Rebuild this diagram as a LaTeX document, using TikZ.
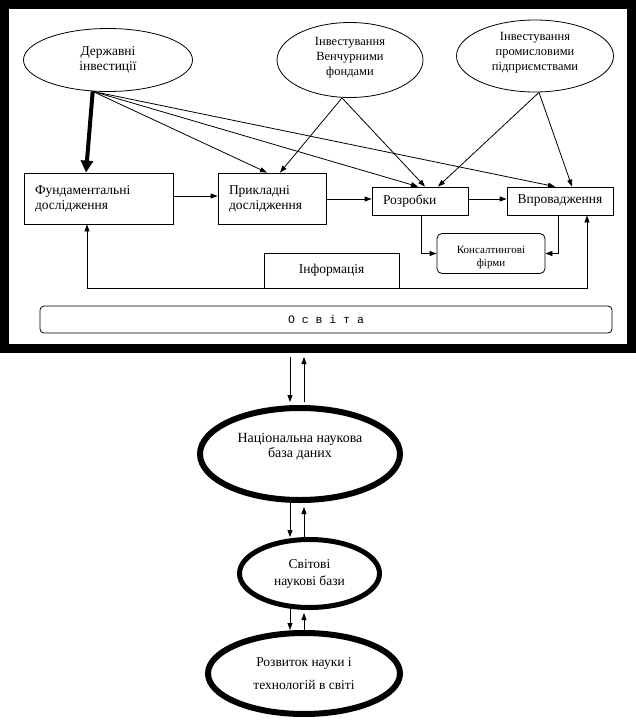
\documentclass[tikz,border=0pt]{standalone}
\usepackage{fontspec}
\setmainfont{Liberation Serif}
\setmonofont{Liberation Mono}
\usetikzlibrary{shapes.geometric,arrows.meta,calc}
\newcommand{\liftlines}[2]{\raisebox{#1}[\height][\depth]{\begin{tabular}{@{}c@{}}#2\end{tabular}}}
\begin{document}
\begin{tikzpicture}[x=1pt,y=-1pt,
  thin/.style={line width=0.8pt},
  arr/.style={thin,-{Triangle[length=7pt,width=5pt]}},
  thickarr/.style={line width=4pt,-{Triangle[length=12pt,width=12pt]}},
  box/.style={draw,thin,rectangle,inner sep=0pt},
  oval/.style={draw,thin,ellipse,inner sep=0pt,align=center},
  bigoval/.style={draw,ellipse,inner sep=0pt,align=center},
  txt/.style={font=\fontsize{13.5}{15}\selectfont},
  smalltxt/.style={font=\fontsize{12.5}{15}\selectfont},
]
\useasboundingbox (0,0) rectangle (636,720);

% outer frame
\node[draw,line width=9pt,minimum width=627pt,minimum height=344pt] (frame) at (318,176.5) {};

% investment ellipses
\node[oval,txt,minimum width=169pt,minimum height=63pt] (gov) at (108,60) {Державні\\інвестиції};
\node[oval,smalltxt,minimum width=146pt,minimum height=75pt] (ven) at (350,60) {\liftlines{3pt}{Інвестування\\Венчурними\\фондами}};
\node[oval,smalltxt,minimum width=157pt,minimum height=72pt] (ind) at (535,56) {\liftlines{4pt}{Інвестування\\промисловими\\підприємствами}};

% boxes
\node[box,txt,minimum width=149pt,minimum height=51pt,text width=127pt,align=left,inner xsep=11pt] (fund) at (98.5,198.5) {Фундаментальні\\дослідження};
\node[box,txt,minimum width=108pt,minimum height=51pt,text width=86pt,align=left,inner xsep=11pt] (apl) at (272,198.5) {Прикладні\\дослідження};
\node[box,txt,minimum width=96pt,minimum height=28pt,text width=74pt,align=left,inner xsep=11pt] (roz) at (420,201) {Розробки};
\node[box,txt,minimum width=106pt,minimum height=28pt,align=center] (vpr) at (560,201) {Впровадження};
\node[box,rounded corners=5pt,minimum width=108pt,minimum height=40pt,align=center,font=\fontsize{11}{13}\selectfont] (kons) at (491,253.5) {\liftlines{-4pt}{Консалтингові\\фірми}};
\node[box,txt,minimum width=135pt,minimum height=35pt] (info) at (331.5,270.5) {Інформація};
\node[box,rounded corners=4pt,minimum width=572pt,minimum height=27pt,font=\ttfamily\fontsize{11.5}{14}\selectfont] (osv) at (326,319.5) {О с в і т а};

% lower ellipses
\node[bigoval,line width=6pt,minimum width=200pt,minimum height=92pt,font=\fontsize{14}{15}\selectfont] (nat) at (300,454)
  {\liftlines{7pt}{Національна наукова\\база даних}};
\node[bigoval,line width=5pt,minimum width=140pt,minimum height=68pt,font=\fontsize{13.5}{17}\selectfont] (svit) at (309.5,573.5) {Світові\\наукові бази};
\node[bigoval,line width=6pt,minimum width=192pt,minimum height=81pt,font=\fontsize{13.5}{23}\selectfont] (rozv) at (304,673.5) {Розвиток науки і\\технологій в світі};

% arrows from investments
\draw[thickarr] (gov.244) -- ($(fund.north)+(-12.5,0)$);
\draw[arr] (gov.244) -- ($(apl.north)+(-5,0)$);
\draw[arr] (gov.244) -- ($(roz.north)+(-2,0)$);
\draw[arr] (gov.244) -- ($(vpr.north)+(-5,0)$);
\draw[arr] ($(ven.south)+(-8,0)$) -- ($(apl.north)+(8,0)$);
\draw[arr] ($(ven.south)+(-8,0)$) -- ($(roz.north)+(5,0)$);
\draw[arr] ($(ind.south)+(4,0)$) -- ($(roz.north)+(18,0)$);
\draw[arr] ($(ind.south)+(4,0)$) -- ($(vpr.north)+(12,0)$);

% chain
\draw[arr] ($(fund.east)+(0,-2.5)$) -- ($(apl.west)+(0,-2.5)$);
\draw[arr] ($(apl.east |- roz.west)+(0,-2)$) -- ($(roz.west)+(0,-2)$);
\draw[arr] ($(roz.east)+(0,-2)$) -- ($(vpr.west)+(0,-2)$);
\draw[arr] ($(roz.south)+(1,0)$) |- (kons.west);
\draw[arr] ($(vpr.south)+(-2,0)$) |- (kons.east);
\draw[arr] (info.south west) -| ($(fund.south)+(-11.5,0)$);
\draw[arr] (info.south east) -| ($(vpr.south)+(27,0)$);

% lower arrows
\draw[arr] ($(frame.south)+(-28,4)$) -- ($(nat.north)+(-10,-3)$);
\draw[arr] ($(nat.north)+(4,-3)$) -- ($(frame.south)+(-14,4)$);
\draw[arr] ($(nat.south)+(-10,0)$) -- ($(svit.north)+(-19.5,0)$);
\draw[arr] ($(svit.north)+(-5.5,0)$) -- ($(nat.south)+(4,4)$);
\draw[arr] ($(svit.south)+(-19.5,-1)$) -- ($(rozv.north)+(-14,0)$);
\draw[arr] (rozv.north) -- ($(svit.south)+(-5.5,3)$);
\end{tikzpicture}
\end{document}
